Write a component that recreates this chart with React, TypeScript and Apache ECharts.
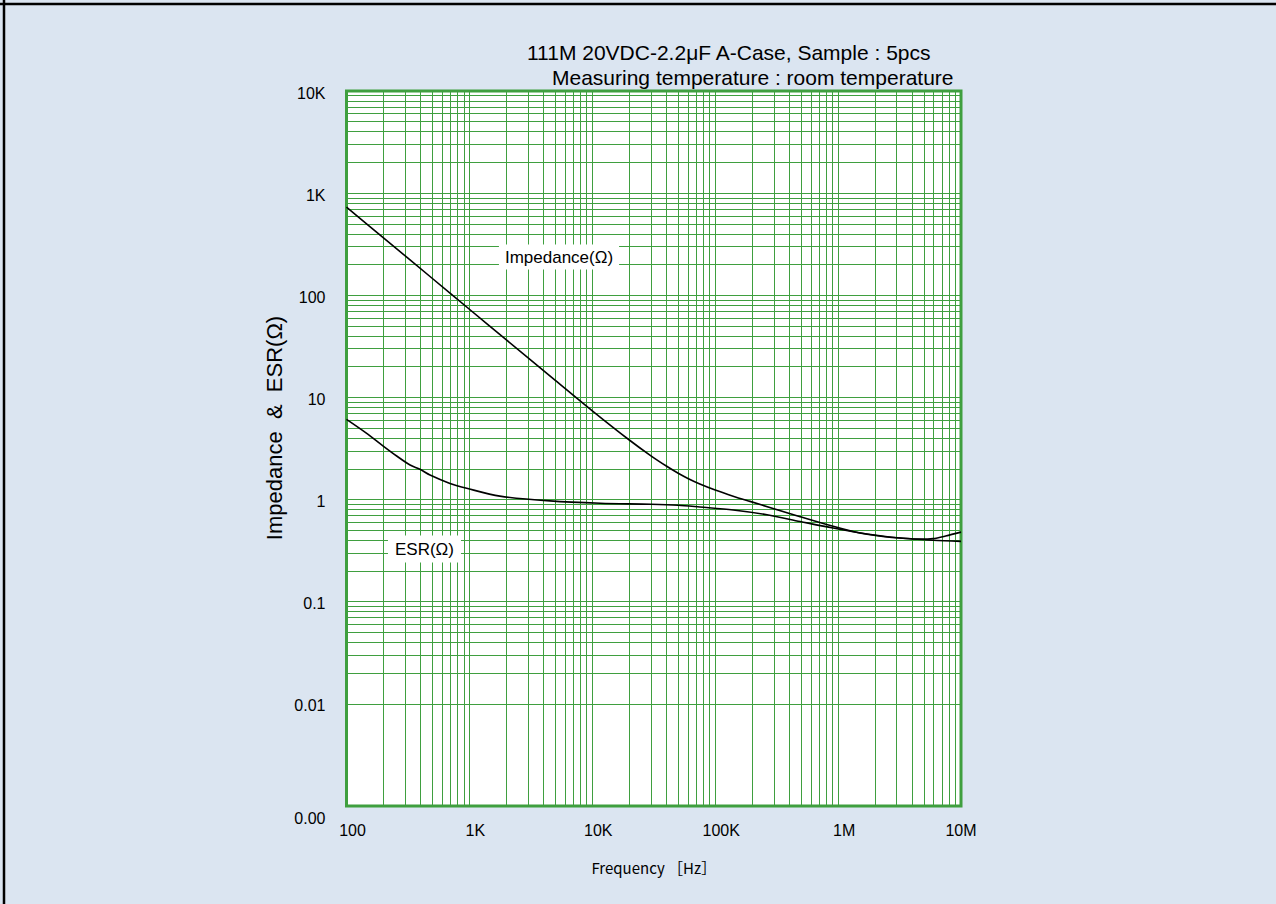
import React, { useEffect, useRef } from "react";
import * as echarts from "echarts";

// ---- data ----
const IMP_FREQ = [100, 200, 500, 1000, 2000, 5000, 10000, 20000, 30000, 40000, 50000, 60000, 75000, 100000, 140000, 192000, 300000, 491000, 910000, 1300000, 1720000, 2400000, 3190000, 4640000, 5920000, 7500000, 10000000];
const IMP_VALUES = [730, 365, 146, 73, 36.6, 14.7, 7.4, 3.83, 2.68, 2.13, 1.81, 1.61, 1.42, 1.24, 1.08, 0.96, 0.815, 0.68, 0.547, 0.49, 0.458, 0.433, 0.42, 0.41, 0.415, 0.44, 0.48];

const ESR_FREQ = [100, 146, 199, 256, 329, 396, 478, 695, 951, 1770, 4530, 11600, 30000, 50000, 75000, 140000, 264000, 491000, 910000, 1720000, 3190000, 5920000, 10000000];
const ESR_VALUES = [6.1, 4.45, 3.34, 2.67, 2.18, 1.98, 1.74, 1.44, 1.29, 1.08, 0.97, 0.92, 0.9, 0.88, 0.845, 0.79, 0.71, 0.61, 0.526, 0.46, 0.42, 0.4, 0.39];

const X_TICK_LABELS = ["100", "1K", "10K", "100K", "1M", "10M"];
const Y_TICK_LABELS = ["0.00", "0.01", "0.1", "1", "10", "100", "1K", "10K"];

const X_DECADES = [100, 1000, 10000, 100000, 1000000];
const Y_DECADES = [0.001, 0.01, 0.1, 1, 10, 100, 1000];
const GRID_STEPS = [1, 2, 3, 4, 5, 6, 7, 8, 9];

const TITLE_LINE_1 = "111M 20VDC-2.2μF A-Case, Sample : 5pcs";
const TITLE_LINE_2 = "Measuring temperature : room temperature";
const Y_NAME = "Impedance  &  ESR(Ω)";
const X_NAME = "Frequency ［Hz］";

const IMP_LABEL = { text: "Impedance(Ω)", coord: [5360, 237] };
const ESR_LABEL = { text: "ESR(Ω)", coord: [431, 0.328] };

const SANS = '"Liberation Sans", Arial, sans-serif';
const GREEN = "#3f9f3f";

function gridValues(decades: number[], first: number, last: number): number[] {
  const out: number[] = [];
  decades.forEach((d) => {
    GRID_STEPS.forEach((s) => {
      const v = d * s;
      if (v > first * 1.0001 && v < last * 0.9999) out.push(v);
    });
  });
  return out;
}

export default function App() {
  const ref = useRef<HTMLDivElement>(null);

  useEffect(() => {
    if (!ref.current) return;
    const chart = echarts.init(ref.current, undefined, { renderer: "svg" });

    const xLines = gridValues(X_DECADES, 100, 1e7);
    const yLines = gridValues(Y_DECADES, 0.001, 10000);

    const labelStyle = {
      show: true,
      position: "inside" as const,
      backgroundColor: "#ffffff",
      color: "#000",
      fontFamily: SANS,
      fontSize: 17,
    };

    const option: any = {
      animation: false,
      backgroundColor: "#dbe5f1",
      grid: {
        left: 346.5,
        top: 91,
        right: 315,
        bottom: 98,
        show: true,
        backgroundColor: "#ffffff",
        borderColor: GREEN,
        borderWidth: 3,
      },
      xAxis: {
        type: "log",
        logBase: 10,
        min: 100,
        max: 1e7,
        splitNumber: 5,
        axisLine: { show: false },
        axisTick: { show: false },
        splitLine: { show: false },
        axisLabel: {
          margin: 16,
          color: "#000",
          fontFamily: SANS,
          fontSize: 16,
          formatter: (v: number) => {
            const i = Math.round(Math.log10(v)) - 2;
            const lab = X_TICK_LABELS[i] ?? "";
            return i === X_TICK_LABELS.length - 1 ? lab : `{s|${lab}}`;
          },
          rich: {
            s: { padding: [0, 0, 0, 12], color: "#000", fontFamily: SANS, fontSize: 16 },
          },
        },
        name: X_NAME,
        nameLocation: "middle",
        nameGap: 54,
        nameTextStyle: { color: "#000", fontFamily: '"Noto Sans CJK JP", sans-serif', fontSize: 15 },
      },
      yAxis: {
        type: "log",
        logBase: 10,
        min: 0.001,
        max: 10000,
        splitNumber: 7,
        axisLine: { show: false },
        axisTick: { show: false },
        splitLine: { show: false },
        axisLabel: {
          margin: 21,
          color: "#000",
          fontFamily: SANS,
          fontSize: 16,
          formatter: (v: number) => {
            const i = Math.round(Math.log10(v)) + 3;
            const lab = Y_TICK_LABELS[i] ?? "";
            return i === 0 ? `{b|${lab}}` : `{a|${lab}}`;
          },
          rich: {
            a: { padding: [4, 0, 0, 0], color: "#000", fontFamily: SANS, fontSize: 16 },
            b: { padding: [24, 0, 0, 0], color: "#000", fontFamily: SANS, fontSize: 16 },
          },
        },
      },
      graphic: [
        { type: "line", shape: { x1: 0, y1: 4, x2: 1276, y2: 4 }, style: { stroke: "#000", lineWidth: 2.5 }, z: 10 },
        { type: "line", shape: { x1: 4, y1: 0, x2: 4, y2: 904 }, style: { stroke: "#000", lineWidth: 2.5 }, z: 10 },
        {
          type: "text",
          x: 527,
          y: 52,
          style: { text: TITLE_LINE_1, font: `21px ${SANS}`, fill: "#000", align: "left", verticalAlign: "middle" },
        },
        {
          type: "text",
          x: 552,
          y: 77,
          style: { text: TITLE_LINE_2, font: `21px ${SANS}`, fill: "#000", align: "left", verticalAlign: "middle" },
        },
        {
          type: "text",
          x: 274,
          y: 428,
          rotation: Math.PI / 2,
          style: { text: Y_NAME, font: `22px ${SANS}`, fill: "#000", align: "center", verticalAlign: "middle" },
        },
      ],
      series: [
        {
          type: "line",
          name: "grid",
          data: [],
          silent: true,
          markLine: {
            silent: true,
            z: 1,
            symbol: ["none", "none"],
            label: { show: false },
            emphasis: { disabled: true },
            lineStyle: { color: GREEN, width: 1, type: "solid" },
            data: [...xLines.map((v) => ({ xAxis: v })), ...yLines.map((v) => ({ yAxis: v }))],
          },
        },
        {
          type: "line",
          name: "Impedance",
          z: 3,
          smooth: 0.3,
          symbol: "none",
          showSymbol: false,
          lineStyle: { color: "#000", width: 1.6 },
          data: IMP_FREQ.map((f, i) => [f, IMP_VALUES[i]]),
          markPoint: {
            symbol: "circle",
            symbolSize: 1,
            itemStyle: { color: "rgba(0,0,0,0)" },
            label: { ...labelStyle, padding: [4, 6, 4, 6], formatter: IMP_LABEL.text },
            data: [{ coord: IMP_LABEL.coord }],
          },
        },
        {
          type: "line",
          name: "ESR",
          z: 3,
          smooth: 0.3,
          symbol: "none",
          showSymbol: false,
          lineStyle: { color: "#000", width: 1.6 },
          data: ESR_FREQ.map((f, i) => [f, ESR_VALUES[i]]),
          markPoint: {
            symbol: "circle",
            symbolSize: 1,
            itemStyle: { color: "rgba(0,0,0,0)" },
            label: { ...labelStyle, padding: [5, 7, 5, 7], formatter: ESR_LABEL.text },
            data: [{ coord: ESR_LABEL.coord }],
          },
        },
      ],
    };

    chart.setOption(option);
    return () => chart.dispose();
  }, []);

  return (
    <div
      ref={ref}
      style={{ position: "absolute", left: 0, top: 0, width: 1276, height: 904 }}
    />
  );
}
